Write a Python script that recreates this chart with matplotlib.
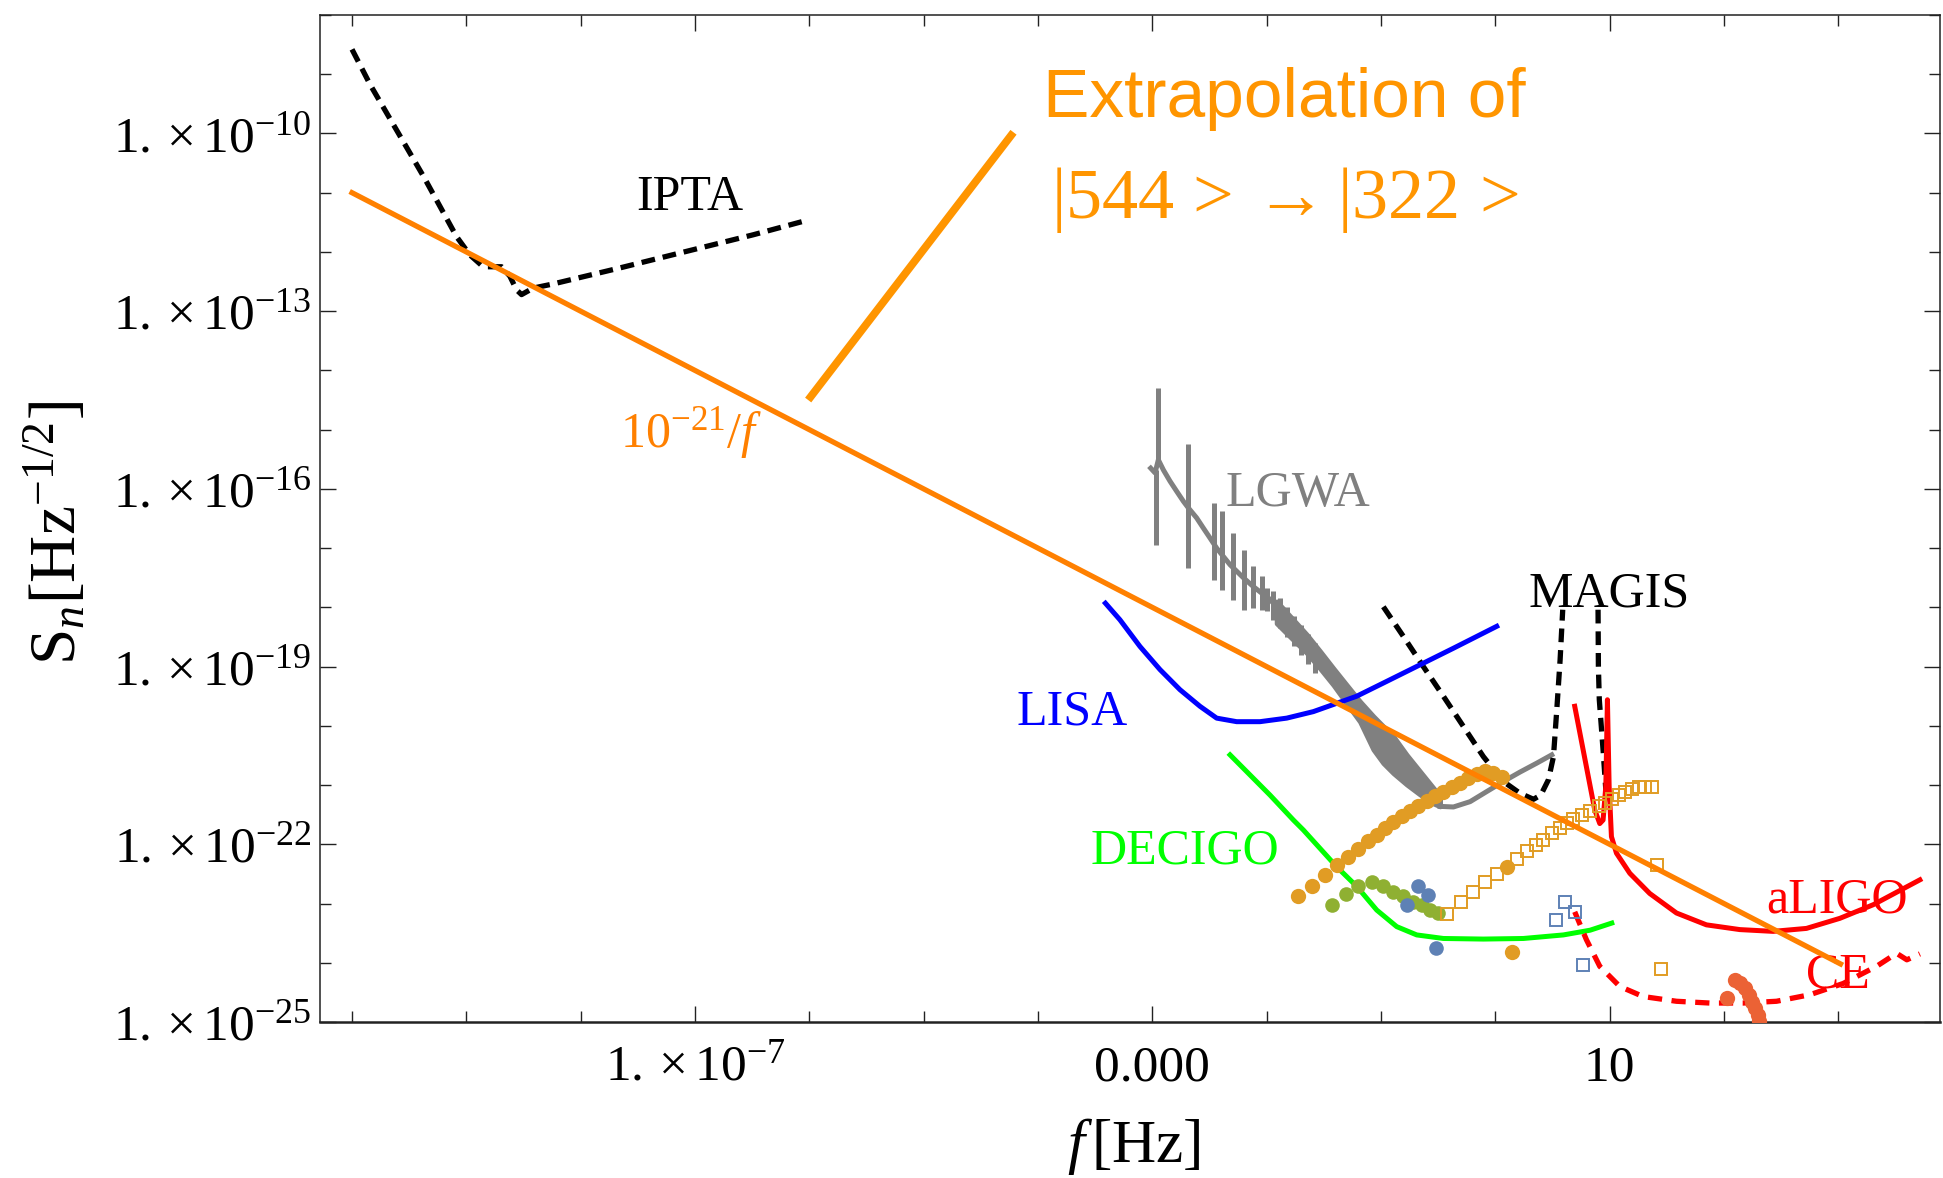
import numpy as np
import matplotlib
matplotlib.use("Agg")
import matplotlib.pyplot as plt
from matplotlib.ticker import FixedLocator, NullFormatter

plt.rcParams["font.family"] = ["Liberation Serif", "DejaVu Serif"]
plt.rcParams["mathtext.fontset"] = "custom"
plt.rcParams["mathtext.rm"] = "Liberation Serif"
plt.rcParams["mathtext.it"] = "Liberation Serif:italic"
plt.rcParams["mathtext.bf"] = "Liberation Serif:bold"

# all values below are log10(f/Hz) and log10(S_n / Hz^-1/2)

# 10^-21/f line (end points)
orange_logf = [-10.0, 3.02]
orange_logS = [-11.0, -24.02]

# extrapolation of |544> -> |322>
ext_logf = [-6.01, -4.214]
ext_logS = [-14.50, -9.98]

# IPTA
ipta_logf = [-10.0, -9.84, -9.37, -9.086, -8.969, -8.853, -8.692, -8.619, -8.561,
             -8.517, -8.415, -8.240, -7.657, -7.074, -6.490, -6.009]
ipta_logS = [-8.58, -9.18, -10.74, -11.74, -12.05, -12.25, -12.25, -12.41, -12.64,
             -12.72, -12.61, -12.54, -12.27, -11.99, -11.71, -11.46]

# LISA
lisa_logf = [-3.41, -3.283, -3.108, -2.933, -2.758, -2.583, -2.437, -2.262, -2.058,
             -1.824, -1.591, -1.387, -1.212, -0.950, -0.658, -0.366, 0.013]
lisa_logS = [-17.93, -18.21, -18.66, -19.05, -19.39, -19.67, -19.87, -19.93, -19.93,
             -19.87, -19.76, -19.62, -19.50, -19.25, -18.97, -18.69, -18.32]

# DECIGO
decigo_logf = [-2.320, -1.970, -1.766, -1.678, -1.387, -1.212, -1.037, -0.862, -0.687,
               -0.454, -0.104, 0.246, 0.596, 0.830, 1.019]
decigo_logS = [-20.49, -21.17, -21.59, -21.76, -22.38, -22.71, -23.11, -23.39, -23.53,
               -23.59, -23.60, -23.59, -23.53, -23.45, -23.33]

# MAGIS (two dashed pieces)
magis_a_logf = [-0.979, -0.804, -0.629, -0.454, -0.279, -0.104, 0.071, 0.217, 0.334,
                0.398, 0.465, 0.509, 0.538, 0.567, 0.590]
magis_a_logS = [-17.99, -18.49, -19.00, -19.50, -20.01, -20.52, -20.94, -21.14, -21.24,
                -21.17, -20.91, -20.52, -19.73, -18.89, -18.04]
magis_b_logf = [0.899, 0.902, 0.910, 0.943, 0.967]
magis_b_logS = [-18.04, -19.00, -19.56, -20.41, -21.08]

# aLIGO
aligo_logf = [0.695, 0.797, 0.870, 0.914, 0.943, 0.967, 0.981, 0.996, 1.016, 1.060,
              1.177, 1.351, 1.585, 1.847, 2.139, 2.431, 2.722, 3.014, 3.306, 3.714]
aligo_logS = [-19.67, -20.69, -21.42, -21.65, -21.59, -21.02, -19.56, -21.02, -21.87, -22.15,
              -22.49, -22.83, -23.16, -23.36, -23.44, -23.47, -23.42, -23.25, -23.02, -22.60]

# CE
ce_logf = [0.695, 0.797, 0.914, 1.089, 1.293, 1.585, 1.876, 2.168, 2.460, 2.751,
           3.043, 3.335, 3.510, 3.600, 3.714]
ce_logS = [-23.14, -23.61, -24.06, -24.40, -24.57, -24.65, -24.68, -24.68, -24.65, -24.54,
           -24.35, -24.06, -23.84, -23.95, -23.85]

# LGWA: smooth part, resonance spikes, dense band, high-f tail
lgwa_logf = [-3.014, -2.976, -2.947, -2.903, -2.845, -2.787, -2.728, -2.685, -2.612, -2.554,
             -2.495, -2.437, -2.379, -2.320, -2.262, -2.198, -2.116, -2.043, -1.985, -1.912]
lgwa_logS = [-15.65, -15.73, -15.51, -15.68, -15.87, -16.04, -16.21, -16.32, -16.49, -16.66,
             -16.83, -17.00, -17.14, -17.28, -17.39, -17.51, -17.65, -17.76, -17.84, -17.99]
spike_logf = [-2.968, -2.950, -2.691, -2.457, -2.387, -2.297, -2.198, -2.116, -2.043, -1.999,
              -1.941, -1.88, -1.82, -1.76, -1.70, -1.64, -1.58]
spike_top = [-15.68, -14.30, -15.25, -16.24, -16.38, -16.74, -17.04, -17.31, -17.47, -17.68,
             -17.73, -17.85, -18.0, -18.15, -18.3, -18.45, -18.6]
spike_bot = [-16.94, -15.56, -17.34, -17.53, -17.70, -17.87, -18.04, -18.01, -18.04, -18.07,
             -18.21, -18.35, -18.5, -18.65, -18.8, -18.95, -19.1]
band_logf = [-1.912, -1.766, -1.649, -1.533, -1.416, -1.300, -1.183, -1.066, -0.979,
             -0.891, -0.775, -0.658, -0.541, -0.483]
band_hi = [-17.90, -18.21, -18.46, -18.74, -19.03, -19.31, -19.59, -19.84, -20.01,
           -20.18, -20.49, -20.77, -21.05, -21.19]
band_lo = [-18.27, -18.55, -18.77, -19.03, -19.31, -19.62, -19.93, -20.40, -20.63,
           -20.80, -20.99, -21.16, -21.31, -21.36]
tail_logf = [-0.483, -0.366, -0.220, -0.075, 0.071, 0.217, 0.363, 0.494]
tail_logS = [-21.36, -21.37, -21.28, -21.11, -20.94, -20.78, -20.63, -20.49]

# source points
dots_or_logf = [-1.722, -1.605, -1.489, -1.387, -1.285, -1.197, -1.110, -1.037, -0.964, -0.891,
                -0.818, -0.745, -0.672, -0.599, -0.527, -0.454, -0.381, -0.308, -0.235, -0.162,
                -0.089, -0.016, 0.057, 0.106, 0.150]
dots_or_logS = [-22.88, -22.70, -22.52, -22.35, -22.21, -22.08, -21.95, -21.84, -21.73, -21.63,
                -21.53, -21.43, -21.35, -21.27, -21.18, -21.11, -21.03, -20.96, -20.88, -20.82,
                -20.77, -20.80, -20.87, -22.38, -23.81]
dots_gr_logf = [-1.430, -1.305, -1.197, -1.081, -0.978, -0.891, -0.804, -0.716, -0.643, -0.570, -0.497]
dots_gr_logS = [-23.02, -22.84, -22.70, -22.64, -22.71, -22.80, -22.87, -22.97, -23.03, -23.11, -23.16]
dots_bl_logf = [-0.678, -0.591, -0.774, -0.521]
dots_bl_logS = [-22.70, -22.85, -23.02, -23.755]
dots_rd_logf = [2.025, 2.098, 2.142, 2.186, 2.215, 2.244, 2.273, 2.294, 2.311]
dots_rd_logS = [-24.60, -24.29, -24.35, -24.43, -24.54, -24.66, -24.77, -24.88, -24.99]
sq_or_logf = [-0.424, -0.302, -0.197, -0.089, 0.013, 0.188, 0.276, 0.354, 0.421, 0.494,
              0.567, 0.626, 0.684, 0.757, 0.830, 0.903, 0.961, 1.019, 1.078, 1.136,
              1.194, 1.253, 1.311, 1.369, 1.413, 1.448]
sq_or_logS = [-23.18, -22.98, -22.80, -22.64, -22.50, -22.25, -22.12, -22.01, -21.93, -21.81,
              -21.73, -21.64, -21.58, -21.50, -21.43, -21.36, -21.30, -21.23, -21.17, -21.11,
              -21.07, -21.04, -21.03, -21.04, -22.35, -24.11]
sq_bl_logf = [0.611, 0.698, 0.532, 0.771]
sq_bl_logS = [-22.98, -23.15, -23.28, -24.03]

# axis ticks
xmajor = [-7, -3, 1]
xmajor_labels = [r"$1.\times10^{-7}$", "0.000", "10"]
xminor = [-10, -9, -8, -6, -5, -4, -2, -1, 0, 2, 3]
ymajor = [-25, -22, -19, -16, -13, -10]
yminor = [-24, -23, -21, -20, -18, -17, -15, -14, -12, -11, -9, -8]


def p(a):
    return 10.0 ** np.asarray(a, dtype=float)


fig = plt.figure(figsize=(19.43, 11.78), dpi=100)
ax = fig.add_axes([320 / 1943, 1 - 1022 / 1178, 1620 / 1943, 1007 / 1178])
ax.set_xscale("log")
ax.set_yscale("log")
ax.set_xlim(10 ** -10.28, 10 ** 3.89)
ax.set_ylim(1e-25, 1e-8)

dash = (0, (2.6, 1.5))
gray = "#808080"
lw = 3.6

# LGWA
ax.plot(p(lgwa_logf), p(lgwa_logS), color=gray, lw=lw, zorder=1)
ax.vlines(p(spike_logf), p(spike_bot), p(spike_top), color=gray, lw=lw, zorder=1)
ax.fill_between(p(band_logf), p(band_lo), p(band_hi), color=gray, lw=3.5, zorder=1)
ax.plot(p(tail_logf), p(tail_logS), color=gray, lw=lw, zorder=1)

ax.plot(p(ipta_logf), p(ipta_logS), color="black", lw=3.8, ls=dash, zorder=2)
ax.plot(p(magis_a_logf), p(magis_a_logS), color="black", lw=3.8, ls=dash, zorder=2)
ax.plot(p(magis_b_logf), p(magis_b_logS), color="black", lw=3.8, ls=dash, zorder=2)
ax.plot(p(lisa_logf), p(lisa_logS), color="#0000ff", lw=lw, zorder=2)
ax.plot(p(decigo_logf), p(decigo_logS), color="#00ff00", lw=lw, zorder=2)
ax.plot(p(aligo_logf), p(aligo_logS), color="#ff0000", lw=lw, zorder=2)
ax.plot(p(ce_logf), p(ce_logS), color="#ff0000", lw=3.8, ls=(0, (2.7, 1.8)), zorder=2)

ax.plot(p(dots_or_logf), p(dots_or_logS), "o", ms=11, color="#e19c24", mec="none", zorder=3)
ax.plot(p(dots_gr_logf), p(dots_gr_logS), "o", ms=10.5, color="#8fb032", mec="none", zorder=3)
ax.plot(p(dots_bl_logf), p(dots_bl_logS), "o", ms=10.5, color="#5e81b5", mec="none", zorder=3)
ax.plot(p(dots_rd_logf), p(dots_rd_logS), "o", ms=11, color="#eb6235", mec="none", zorder=3)
ax.plot(p(sq_or_logf), p(sq_or_logS), "s", ms=8.5, mfc="none", mec="#e19c24", mew=1.4, zorder=3)
ax.plot(p(sq_bl_logf), p(sq_bl_logS), "s", ms=8.5, mfc="none", mec="#5e81b5", mew=1.4, zorder=3)

ax.plot(p(orange_logf), p(orange_logS), color="#ff8000", lw=3.8, zorder=4)
ax.plot(p(ext_logf), p(ext_logS), color="#ff9500", lw=5.6, solid_capstyle="butt", zorder=4)

# labels on the curves
fs = 36
ax.text(p(-7.045), p(-11.29), "IPTA", fontsize=fs, ha="center", va="baseline")
ax.text(p(-2.36), p(-16.29), "LGWA", fontsize=fs, color=gray, va="baseline")
ax.text(p(0.287), p(-17.99), "MAGIS", fontsize=fs, va="baseline")
ax.text(p(-4.19), p(-19.97), "LISA", fontsize=fs, color="#0000ff", va="baseline")
ax.text(p(-3.544), p(-22.33), "DECIGO", fontsize=fs, color="#00ff00", va="baseline")
ax.text(p(2.37), p(-23.15), "aLIGO", fontsize=fs, color="#ff0000", va="baseline")
ax.text(p(2.72), p(-24.41), "CE", fontsize=fs, color="#ff0000", va="baseline")
ax.text(p(-7.66), p(-15.29), r"$10^{-21}/f$", fontsize=fs, color="#ff8000", va="baseline")
ax.text(p(-3.96), p(-9.73), "Extrapolation of", fontsize=50, color="#ff9500",
        family="Liberation Sans", va="baseline")
ax.text(p(-3.89), p(-11.42), r"$|544\,>\rightarrow|322\,>$", fontsize=52, color="#ff9500",
        va="baseline")

# frame and ticks
for s in ax.spines.values():
    s.set_color("#222222")
    s.set_linewidth(1.1)
ax.spines["bottom"].set_linewidth(1.8)

ax.xaxis.set_major_locator(FixedLocator(p(xmajor)))
ax.xaxis.set_minor_locator(FixedLocator(p(xminor)))
ax.yaxis.set_major_locator(FixedLocator(p(ymajor)))
ax.yaxis.set_minor_locator(FixedLocator(p(yminor)))
ax.xaxis.set_major_formatter(NullFormatter())
ax.xaxis.set_minor_formatter(NullFormatter())
ax.yaxis.set_minor_formatter(NullFormatter())
ax.set_yticklabels([r"$1.\times10^{%d}$" % v for v in ymajor])
ax.tick_params(which="both", direction="in", top=True, right=True, color="#222222", width=1.0)
ax.tick_params(which="major", length=11.5, labelsize=37, pad=6)
ax.tick_params(which="minor", length=8)

for v, lab in zip(xmajor, xmajor_labels):
    ax.text(p(v), -0.0576, lab, transform=ax.get_xaxis_transform(), fontsize=37,
            ha="center", va="baseline")

fig.text(1134 / 1943, 1 - 1162 / 1178, r"$f\,$[Hz]", fontsize=44, ha="center", va="baseline")
fig.text(56 / 1943, 1 - 533 / 1178, r"$\mathrm{S}_n[\mathrm{Hz}^{-1/2}]$", fontsize=47,
         rotation=90, ha="center", va="center")

fig.savefig("out.png", dpi=100)
